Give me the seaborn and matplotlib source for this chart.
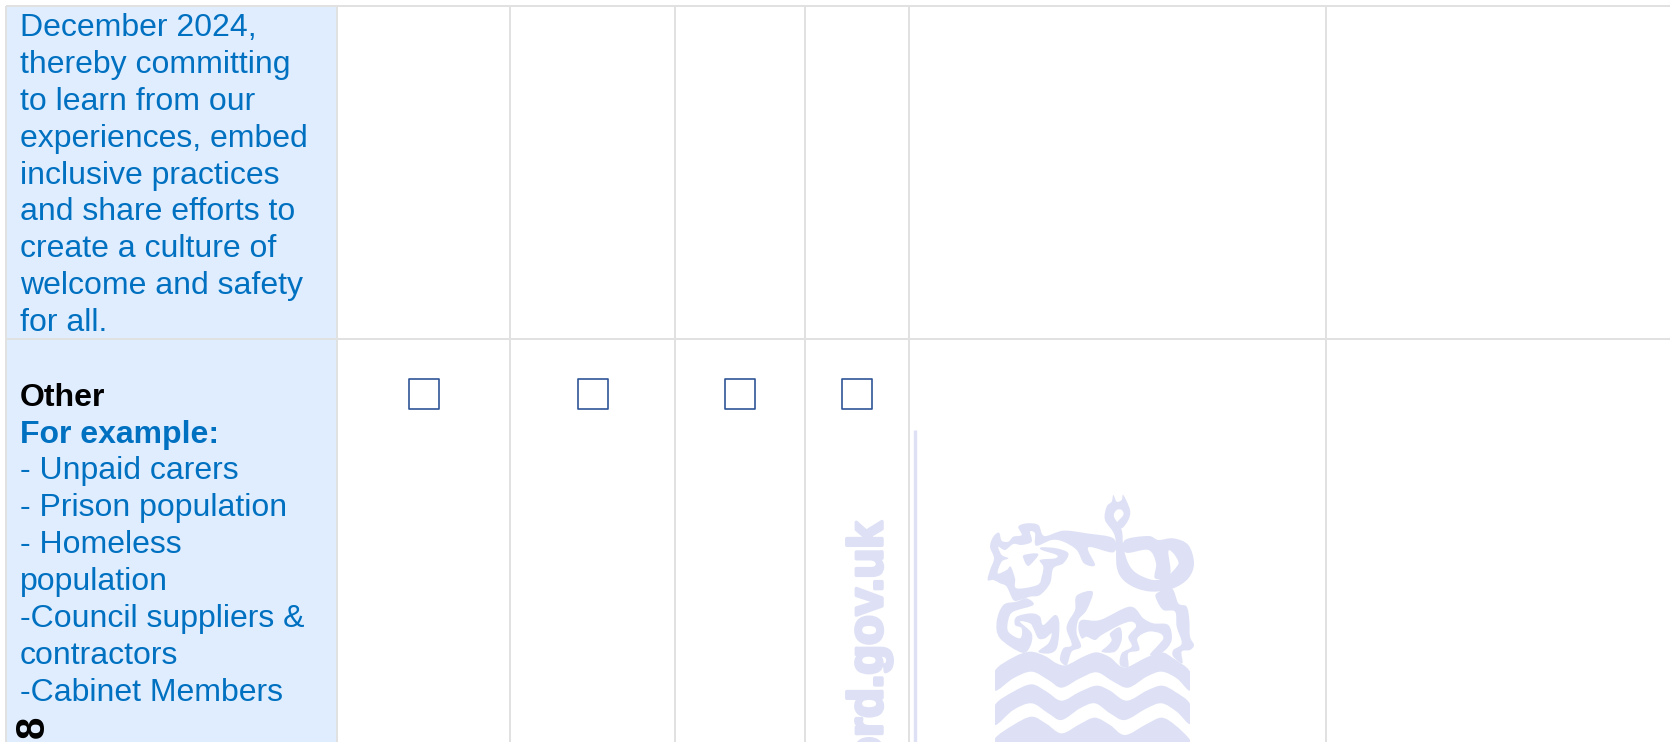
import pandas as pd
import seaborn as sns
import matplotlib.pyplot as plt
import matplotlib.patheffects as pe
from matplotlib.patches import PathPatch, Rectangle
from matplotlib.path import Path

# table text
top_lines = ["December 2024,", "thereby committing", "to learn from our", "experiences, embed",
             "inclusive practices", "and share efforts to", "create a culture of",
             "welcome and safety", "for all."]
other_title = "Other"
other_sub = "For example:"
other_lines = ["- Unpaid carers", "- Prison population", "- Homeless", "population",
               "-Council suppliers &", "contractors", "-Cabinet Members"]
page_number = "8"
watermark_text = "ord.gov.uk"

# table grid, in pixels of the page
col_edges = [5.5, 337, 510, 675, 805, 909, 1326]
row_edges = [5.5, 338.5]
checkbox_x = [424, 593, 740, 857]
checkbox_y = [394, 394, 394, 394]

BLUE = "#0070C0"
CELL = "#DFEDFF"
GRID = "#E1E1E1"
MARK = "#DEE1F5"
BOX = "#2F5597"

bull_parts = [
    [(570,380),(580,350),(597,338),(605,362),(625,365),(640,350),(665,345),(655,320),(680,310),(715,315),
     (733,348),(790,332),(860,340),(940,355),(940,397),(865,382),(885,435),(852,430),(830,390),(790,365),
     (755,360),(708,377),(705,340),(690,335),(695,365),(665,375),(640,372),(615,390),(595,380),(605,405),
     (625,415),(605,425),(593,460),(620,450),(632,440),(645,475),(650,505),(712,495),(725,470),(730,440),
     (720,420),(765,415),(770,405),(725,390),(725,382),(770,385),(805,400),(790,430),(760,445),(750,490),
     (720,525),(690,530),(660,540),(640,540),(620,500),(600,490),(580,480),(563,480),(570,450),(582,415)],
    [(672,405),(715,402),(690,435),(680,435),(672,420)],
    [(940,225),(950,245),(965,240),(970,225),(990,270),(985,300),(965,325),(950,310),(970,285),(965,270),
     (950,270),(942,290),(965,330),(970,380),(985,430),(1010,460),(1060,480),(1100,470),(1130,440),(1135,425),
     (1120,400),(1105,395),(1110,465),(1065,475),(1068,430),(1045,390),(978,398),(975,360),(1045,348),(1075,360),
     (1120,355),(1165,375),(1182,430),(1165,475),(1120,505),(1060,515),(1010,505),(970,480),(950,440),(945,350),
     (915,300),(920,260),(935,245)],
    [(1115,505),(1135,550),(1160,560),(1168,600),(1170,650),(1182,675),(1170,690),(1145,695),(1147,730),(1120,710),
     (1120,690),(1145,670),(1130,620),(1125,575),(1090,570),(1070,540),(1070,520)],
    [(830,527),(878,515),(860,570),(835,600),(830,640),(843,680),(815,695),(800,735),(780,720),(790,685),
     (815,675),(800,630),(805,605),(825,570)],
    [(845,600),(900,600),(990,560),(1030,595),(1060,610),(1105,615),(1115,660),(1090,695),(1050,705),(1075,675),
     (1090,655),(1080,640),(1045,635),(1012,655),(1018,690),(985,700),(985,740),(960,735),(965,700),(995,680),
     (985,650),(1008,620),(995,605),(960,615),(905,645),(885,660),(860,650),(845,655),(835,625)],
    [(930,640),(960,622),(965,660),(945,695),(905,695),(925,675),(935,660)],
    [(680,535),(700,555),(640,575),(625,600),(625,635),(660,655),(665,625),(645,615),(650,590),(695,580),
     (720,590),(730,615),(765,585),(778,610),(772,680),(750,700),(715,695),(745,670),(755,640),(735,655),
     (715,655),(700,625),(690,610),(660,605),(695,640),(690,680),(665,698),(600,655),(590,605),(610,555),(650,545)],
]
wave_parts = [
    [(585,752),(640,712),(690,695),(735,708),(770,730),(800,735),(850,710),(890,697),(930,712),(960,738),
     (985,740),(1040,712),(1085,697),(1120,715),(1170,755),(1170,812),(1130,775),(1085,755),(1040,770),(985,803),
     (940,785),(890,757),(840,775),(785,803),(745,780),(695,755),(640,775),(585,812)],
    [(585,855),(640,815),(695,793),(740,815),(785,842),(840,815),(890,797),(930,812),(980,842),(1040,812),
     (1085,797),(1125,815),(1170,852),(1170,912),(1130,875),(1085,850),(1040,865),(975,900),(930,880),(885,850),
     (840,865),(785,900),(745,880),(695,850),(640,870),(585,915)],
    [(585,955),(640,915),(695,890),(740,912),(785,940),(840,912),(885,893),(930,915),(975,945),(1040,912),
     (1085,893),(1125,915),(1170,960),(1170,990),(585,990)],
]


def crop_to_page(pts):
    # crop was 3x, starting at (800, 420)
    return [(800 + x / 3, 420 + y / 3) for x, y in pts]


def smooth_outline(pts):
    # closed catmull-rom through the traced points, as bezier segments
    n = len(pts)
    verts = [pts[0]]
    codes = [Path.MOVETO]
    for i in range(n):
        p0, p1, p2, p3 = pts[i - 1], pts[i], pts[(i + 1) % n], pts[(i + 2) % n]
        verts.append((p1[0] + (p2[0] - p0[0]) / 6, p1[1] + (p2[1] - p0[1]) / 6))
        verts.append((p2[0] - (p3[0] - p1[0]) / 6, p2[1] - (p3[1] - p1[1]) / 6))
        verts.append(p2)
        codes += [Path.CURVE4] * 3
    return Path(verts, codes)


sns.set_theme(style="white")
plt.rcParams["font.family"] = ["Liberation Sans", "DejaVu Sans"]

fig = plt.figure(figsize=(16.7, 7.42), dpi=100)
ax = fig.add_axes([0, 0, 1, 1])
ax.set_xlim(0, 1670)
ax.set_ylim(742, 0)

# watermark goes under the table
for part in bull_parts:
    ax.add_patch(PathPatch(smooth_outline(crop_to_page(part)), facecolor=MARK, edgecolor="none", zorder=1))
wave_clip = Rectangle((995, 600), 195, 142, transform=ax.transData)
for part in wave_parts:
    wave = PathPatch(smooth_outline(crop_to_page(part)), facecolor=MARK, edgecolor="none", zorder=1)
    ax.add_patch(wave)
    wave.set_clip_path(wave_clip)
ax.vlines(914.5, 430, 742, color=MARK, lw=2.4, zorder=1)
ax.text(882, 522, watermark_text, rotation=90, ha="right", va="baseline", rotation_mode="anchor",
        fontsize=35, fontweight="bold", family=["Liberation Sans Narrow", "Liberation Sans"], color=MARK, zorder=1,
        path_effects=[pe.withStroke(linewidth=2.5, foreground=MARK)])

# blue label column
ax.fill_betweenx([row_edges[0], 742], col_edges[0], col_edges[1], facecolor=CELL, edgecolor="none", zorder=0)

ax.vlines(col_edges, row_edges[0], 742, color=GRID, lw=1.4, zorder=2)
ax.hlines(row_edges, col_edges[0], 1670, color=GRID, lw=1.4, zorder=2)

for i, line in enumerate(top_lines):
    ax.text(20, 36 + i * 36.9, line, fontsize=23, color=BLUE, va="baseline", zorder=3)

ax.text(20, 406, other_title, fontsize=23, fontweight="bold", color="black", va="baseline", zorder=3)
ax.text(20, 443, other_sub, fontsize=23, fontweight="bold", color=BLUE, va="baseline", zorder=3)
for i, line in enumerate(other_lines):
    ax.text(20, 479.5 + i * 36.9, line, fontsize=23, color=BLUE, va="baseline", zorder=3)

ax.text(33, 727, page_number, rotation=90, ha="center", va="center", fontsize=29,
        fontweight="bold", color="black", zorder=3)

boxes = pd.DataFrame({"x": checkbox_x, "y": checkbox_y})
sns.scatterplot(data=boxes, x="x", y="y", marker="s", s=490, facecolor="none",
                edgecolor=BOX, linewidth=1.2, legend=False, ax=ax, zorder=3)

ax.set_xlim(0, 1670)
ax.set_ylim(742, 0)
ax.axis("off")

plt.savefig("out.png", dpi=100, facecolor="white")
